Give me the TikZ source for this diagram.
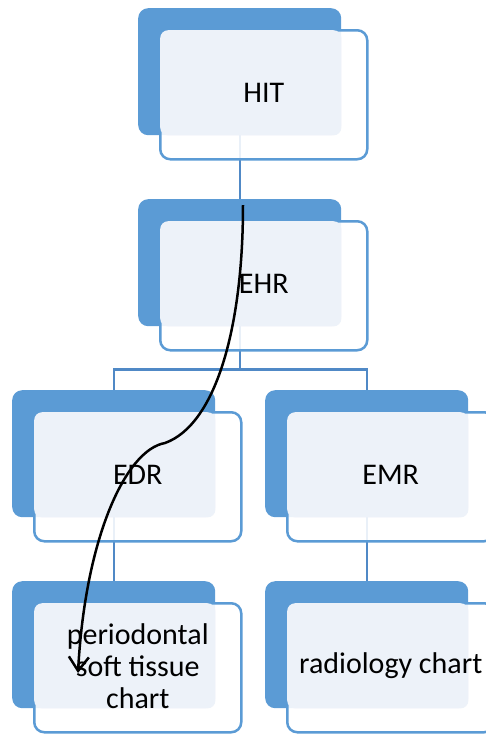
\documentclass[tikz,border=0pt]{standalone}
\usepackage{fontspec}
\setmainfont{Carlito}
\usetikzlibrary{arrows.meta}
\definecolor{boxblue}{HTML}{5B9BD5}
\definecolor{boxlight}{HTML}{EDF2F9}
\definecolor{linkblue}{HTML}{5089C6}
\begin{document}
\begin{tikzpicture}[x=1pt,y=-1pt,line cap=butt,line join=miter,font=\fontsize{30}{32}\selectfont]
	\tikzset{backbox/.style={fill=boxblue,rounded corners=10pt,minimum width=203pt,minimum height=127pt,inner sep=0pt,anchor=north west},
		frontbox/.style={draw=boxblue,line width=2.5pt,fill=white,fill opacity=0.88,rounded corners=10pt,minimum width=207pt,minimum height=129pt,inner sep=0pt,anchor=north west},
		link/.style={draw=linkblue,line width=2.2pt}}
	\useasboundingbox (0,0) rectangle (485,734);
	% back boxes
	\foreach \n/\x/\y in {hit/138/8,ehr/138/199,edr/12/390,emr/265/390,perio/12/581,radio/265/581}{
		\node[backbox] (\n-b) at (\x,\y) {};}
	% tree links
	\draw[link] (hit-b.south) -- (ehr-b.north);
	\draw[link] (ehr-b.south) -- ++(0,43) -| (edr-b.north);
	\draw[link] (ehr-b.south) -- ++(0,43) -| (emr-b.north);
	\draw[link] (edr-b.south) -- (perio-b.north);
	\draw[link] (emr-b.south) -- (radio-b.north);
	% front boxes with labels
	\foreach \n/\x/\y/\t in {hit/138/8/HIT,ehr/138/199/EHR,edr/12/390/EDR,emr/265/390/EMR,perio/12/581/{periodontal\\soft tissue\\chart},radio/265/581/radiology chart}{
		\node[frontbox] (\n) at ({\x+21},{\y+21}) {};
		\fill[boxlight,rounded corners=8pt] ([shift={(1.2,1.2)}]\n.north west) rectangle (\n-b.south east);
		\node[align=center,inner sep=0pt] (\n-t) at ([shift={(0,-2)}]\n.center) {\t};}
	% hand drawn arrow
	\coordinate (tail) at (243,205);
	\coordinate (head) at (78,673);
	\draw[line width=2.5pt,-{Straight Barb[length=14pt,width=20pt]}] (tail) .. controls (243,330) and (215,425) .. (165,443) .. controls (125,450) and (85,540) .. (head);
\end{tikzpicture}
\end{document}
